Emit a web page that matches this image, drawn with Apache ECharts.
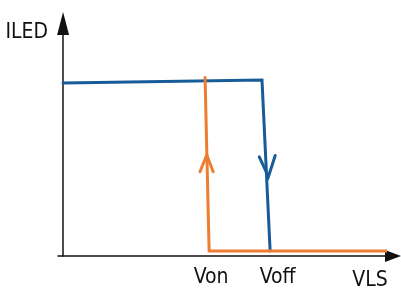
<!DOCTYPE html>
<html>
<head>
<meta charset="utf-8">
<script src="https://cdn.jsdelivr.net/npm/echarts@6/dist/echarts.min.js"></script>
<style>
  html, body { margin: 0; padding: 0; background: #fff; }
  #chart { width: 401px; height: 289px; }
</style>
</head>
<body>
<div id="chart"></div>
<script>
// ILED vs VLS hysteresis (arbitrary units, 0..100)
var offCurveX = [0, 58.7, 61.1]
var offCurveY = [78.3, 79.6, 2.3]
var onCurveX = [41.9, 43.1, 95.6]
var onCurveY = [80.8, 2.3, 2.3]

// direction chevrons drawn on the curves
var downArrowX = [57.9, 60.6, 62.6]
var downArrowY = [44.9, 35.9, 45.5]
var upArrowX = [40.4, 42.4, 44.3]
var upArrowY = [38.1, 45.7, 38.1]

var tickValues = [43.7, 63.3, 90.6]
var tickLabels = ['Von', 'Voff', 'VLS']

var blue = '#185b99'
var orange = '#ed7d31'
var narrow = "'Liberation Sans Narrow', 'Arial Narrow', 'DejaVu Sans Condensed', sans-serif"

function pairs(xs, ys) {
  return xs.map(function (x, i) { return [x, ys[i]] })
}

var chart = echarts.init(document.getElementById('chart'))

var lineSeries = function (data, color) {
  return {
    type: 'line',
    data: data,
    symbol: 'none',
    clip: false,
    silent: true,
    animation: false,
    lineStyle: { color: color, width: 3, cap: 'round', join: 'miter' }
  }
}

var options = {
  animation: false,
  grid: { left: 58, right: 16, top: 35, bottom: 33, outerBoundsMode: 'none' },
  xAxis: {
    type: 'value',
    min: -1.5,
    max: 95,
    axisLine: {
      show: true,
      onZero: true,
      symbol: ['none', 'triangle'],
      symbolSize: [12, 16],
      symbolOffset: [0, 8],
      lineStyle: { color: '#111', width: 1.5 }
    },
    axisTick: { show: false },
    splitLine: { show: false },
    axisLabel: {
      customValues: tickValues,
      margin: 11,
      color: '#111',
      fontSize: 21,
      fontFamily: narrow,
      formatter: function (v) {
        var i = tickValues.indexOf(v)
        var t = i >= 0 ? tickLabels[i] : ''
        return t == 'VLS' ? '{low|' + t + '}' : t
      },
      rich: {
        low: { fontSize: 21, fontFamily: narrow, color: '#111', padding: [3, 0, 0, 0] }
      }
    }
  },
  yAxis: {
    type: 'value',
    min: 0,
    max: 100,
    name: 'ILED',
    nameLocation: 'end',
    nameGap: 2,
    nameTextStyle: {
      color: '#111',
      fontSize: 21,
      fontFamily: narrow,
      fontWeight: 'normal',
      align: 'right',
      verticalAlign: 'middle',
      padding: [0, 15, 0, 0]
    },
    axisLine: {
      show: true,
      onZero: true,
      symbol: ['none', 'triangle'],
      symbolSize: [12, 23],
      symbolOffset: [0, 11.5],
      lineStyle: { color: '#111', width: 1.5 }
    },
    axisTick: { show: false },
    axisLabel: { show: false },
    splitLine: { show: false }
  },
  series: [
    lineSeries(pairs(offCurveX, offCurveY), blue),
    lineSeries(pairs(downArrowX, downArrowY), blue),
    lineSeries(pairs(onCurveX, onCurveY), orange),
    lineSeries(pairs(upArrowX, upArrowY), orange)
  ]
}

chart.setOption(options)
</script>
</body>
</html>
